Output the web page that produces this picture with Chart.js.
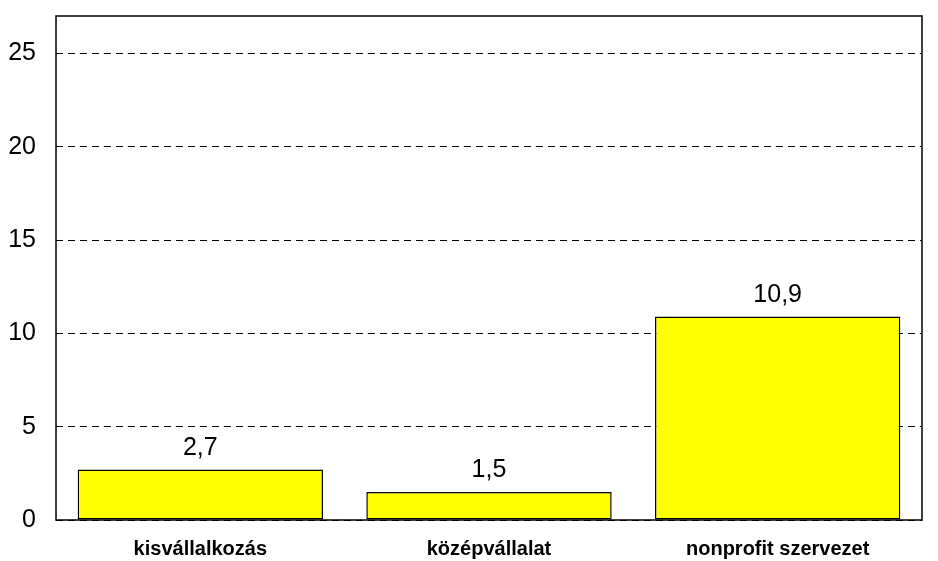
<!DOCTYPE html>
<html><head><meta charset="utf-8">
<script src="https://cdn.jsdelivr.net/npm/chart.js@4/dist/chart.umd.min.js"></script>
<style>html,body{margin:0;padding:0;background:#fff}#wrap{width:938px;height:561px}</style>
</head><body><div id="wrap"><canvas id="c" width="938" height="561"></canvas></div>
<script>
const categories = ["kisvállalkozás", "középvállalat", "nonprofit szervezet"];
const values = [2.7, 1.5, 10.9];
const valueLabels = ["2,7", "1,5", "10,9"];
const yTickValues = [0, 5, 10, 15, 20, 25];
const yMin = 0, yMax = 27;

const FONT = "'Liberation Sans Narrow', 'Arial Narrow', 'Liberation Sans', Arial, sans-serif";

const labelPlugin = {
  id: 'valLabels',
  afterDatasetsDraw(chart) {
    const ctx = chart.ctx;
    const meta = chart.getDatasetMeta(0);
    ctx.save();
    ctx.font = "25px " + FONT;
    ctx.fillStyle = "#000";
    ctx.textAlign = "center";
    ctx.textBaseline = "alphabetic";
    meta.data.forEach((el, i) => {
      ctx.fillText(valueLabels[i], el.x, el.y - 15);
    });
    ctx.restore();
  }
};
const framePlugin = {
  id: 'frame',
  afterDraw(chart) {
    const a = chart.chartArea, ctx = chart.ctx;
    ctx.save();
    ctx.strokeStyle = "#000";
    ctx.lineWidth = 1.5;
    ctx.strokeRect(a.left, a.top, a.right - a.left, a.bottom - a.top);
    ctx.restore();
  }
};

new Chart(document.getElementById('c'), {
  type: 'bar',
  data: {
    labels: categories,
    datasets: [{
      data: values,
      backgroundColor: '#FFFF00',
      borderColor: '#000',
      borderWidth: 1.5,
      borderSkipped: false,
      barPercentage: 0.85,
      categoryPercentage: 1.0
    }]
  },
  options: {
    responsive: false,
    animation: false,
    devicePixelRatio: 1,
    layout: { padding: { left: 0, right: 16, top: 16, bottom: 0 } },
    plugins: { legend: { display: false }, tooltip: { enabled: false } },
    scales: {
      x: {
        grid: { display: false, drawTicks: false },
        border: { display: false },
        ticks: { color: '#000', font: { family: FONT, size: 20, weight: 'bold' }, padding: 17 },
        afterFit(s) { s.height = 41; s.paddingLeft = 0; s.paddingRight = 0; }
      },
      y: {
        min: yMin, max: yMax,
        grid: { color: '#000', lineWidth: 1, drawTicks: false },
        border: { display: false, dash: [7, 5] },
        ticks: { color: '#000', font: { family: FONT, size: 25 }, padding: 20 },
        afterBuildTicks(s) { s.ticks = yTickValues.map(v => ({ value: v })); },
        afterFit(s) { s.width = 56; s.paddingTop = 0; s.paddingBottom = 0; }
      }
    }
  },
  plugins: [labelPlugin, framePlugin]
});
</script>
</body></html>
